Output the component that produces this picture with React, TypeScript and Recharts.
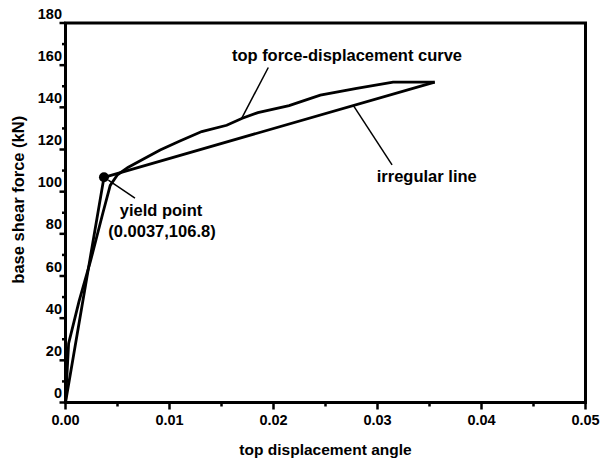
import { ComposedChart, Line, XAxis, YAxis, ReferenceArea, ReferenceLine, ReferenceDot } from 'recharts'

// top force-displacement curve (displacement angle, base shear kN)
const CURVE_X = [0, 0.0003, 0.0013, 0.0024, 0.0036, 0.0043, 0.005, 0.006, 0.0075, 0.0091, 0.011, 0.0131, 0.0155, 0.017, 0.0185, 0.0215, 0.0245, 0.028, 0.0315, 0.0355]
const CURVE_Y = [0, 28, 48, 67, 90, 103, 108, 111.5, 115.5, 119.8, 124, 128.5, 131.5, 134.8, 137.5, 140.8, 145.8, 149, 152, 152]

// irregular (bilinear) line
const IRREGULAR_X = [0, 0.0037, 0.0355]
const IRREGULAR_Y = [0, 106.8, 152]

const YIELD_X = 0.0037
const YIELD_Y = 106.8

const X_TICKS = [0, 0.005, 0.01, 0.015, 0.02, 0.025, 0.03, 0.035, 0.04, 0.045, 0.05]
const X_TICK_LABELS = ['0.00', '0.01', '0.02', '0.03', '0.04', '0.05']
const Y_TICKS = [0, 10, 20, 30, 40, 50, 60, 70, 80, 90, 100, 110, 120, 130, 140, 150, 160, 170, 180]
const Y_TICK_LABELS = ['0', '20', '40', '60', '80', '100', '120', '140', '160', '180']

const FONT = '"Liberation Sans", Arial, sans-serif'

const curveData = CURVE_X.map((x, i) => ({ x, y: CURVE_Y[i] }))
const irregularData = IRREGULAR_X.map((x, i) => ({ x, y: IRREGULAR_Y[i] }))

// leader lines, in data units
const LEADERS = [
  [{ x: 0.0195, y: 158.9 }, { x: 0.01694, y: 134.8 }],
  [{ x: 0.02767, y: 140.9 }, { x: 0.0314, y: 112.7 }],
  [{ x: 0.00412, y: 105.5 }, { x: 0.00668, y: 96.9 }],
]

const NOTES = [
  { x: 0.016, y: 164.8, text: 'top force-displacement curve', anchor: 'start' },
  { x: 0.02993, y: 107.4, text: 'irregular line', anchor: 'start' },
  { x: 0.00918, y: 91.3, text: 'yield point', anchor: 'middle' },
  { x: 0.00928, y: 81.3, text: `(${YIELD_X},${YIELD_Y})`, anchor: 'middle' },
]

const XTick = (props: any) => {
  const { x, y, index } = props
  const major = index % 2 === 0
  return (
    <g>
      <line x1={x} x2={x} y1={y} y2={y + (major ? 7 : 4)} stroke="#000" strokeWidth={2.5} />
      {major && (
        <text x={x} y={y + 17.5} textAnchor="middle" dominantBaseline="central"
          fontFamily={FONT} fontWeight="bold" fontSize={14.5} fill="#000">
          {X_TICK_LABELS[index / 2]}
        </text>
      )}
    </g>
  )
}

const YTick = (props: any) => {
  const { x, y, index } = props
  const major = index % 2 === 0
  return (
    <g>
      <line x1={x} x2={x - (major ? 6 : 3.5)} y1={y} y2={y} stroke="#000" strokeWidth={2.5} />
      {major && (
        <text x={x - 3.5} y={y - 9.5} textAnchor="end" dominantBaseline="central"
          fontFamily={FONT} fontWeight="bold" fontSize={14.5} fill="#000">
          {Y_TICK_LABELS[index / 2]}
        </text>
      )}
    </g>
  )
}

const App = () => {
  return (
    <div style={{ position: 'absolute', left: 0, top: 0 }}>
      <ComposedChart width={601} height={462} margin={{ top: 23, right: 15.5, bottom: 0, left: 0 }}>
        <XAxis
          type="number"
          dataKey="x"
          domain={[0, 0.05]}
          ticks={X_TICKS}
          interval={0}
          axisLine={false}
          tickLine={false}
          tickSize={0}
          tickMargin={0}
          height={59.5}
          tick={<XTick />}
          label={{
            content: (p: any) => (
              <text x={p.viewBox.x + p.viewBox.width / 2} y={p.viewBox.y + 46.5}
                textAnchor="middle" dominantBaseline="central"
                fontFamily={FONT} fontWeight="bold" fontSize={15.5} fill="#000">
                top displacement angle
              </text>
            ),
          }}
        />
        <YAxis
          type="number"
          dataKey="y"
          domain={[0, 180]}
          ticks={Y_TICKS}
          interval={0}
          axisLine={false}
          tickLine={false}
          tickSize={0}
          tickMargin={0}
          width={65.5}
          tick={<YTick />}
          label={{
            content: (p: any) => {
              const cx = 18
              const cy = p.viewBox.y + p.viewBox.height / 2 - 13
              return (
                <text x={cx} y={cy} transform={`rotate(-90 ${cx} ${cy})`}
                  textAnchor="middle" dominantBaseline="central"
                  fontFamily={FONT} fontWeight="bold" fontSize={16.5} fill="#000">
                  base shear force (kN)
                </text>
              )
            },
          }}
        />
        <ReferenceArea x1={0} x2={0.05} y1={0} y2={180} fill="none" fillOpacity={0} stroke="#000" strokeWidth={3} />
        <Line data={irregularData} dataKey="y" type="linear" stroke="#000" strokeWidth={2.8}
          dot={false} activeDot={false} isAnimationActive={false} />
        <Line data={curveData} dataKey="y" type="linear" stroke="#000" strokeWidth={2.8}
          dot={false} activeDot={false} isAnimationActive={false} />
        {LEADERS.map((seg, i) => (
          <ReferenceLine key={`lead-${i}`} segment={seg} stroke="#000" strokeWidth={1.5} />
        ))}
        <ReferenceDot x={YIELD_X} y={YIELD_Y} r={5} fill="#000" stroke="#000" strokeWidth={0} />
        {NOTES.map((n, i) => (
          <ReferenceDot
            key={`note-${i}`}
            x={n.x}
            y={n.y}
            r={0}
            fill="none"
            stroke="none"
            label={{
              content: (p: any) => (
                <text x={p.viewBox.x} y={p.viewBox.y} textAnchor={n.anchor as any}
                  dominantBaseline="central" fontFamily={FONT} fontWeight="bold"
                  fontSize={16.5} fill="#000">
                  {n.text}
                </text>
              ),
            }}
          />
        ))}
      </ComposedChart>
    </div>
  )
}

export default App
